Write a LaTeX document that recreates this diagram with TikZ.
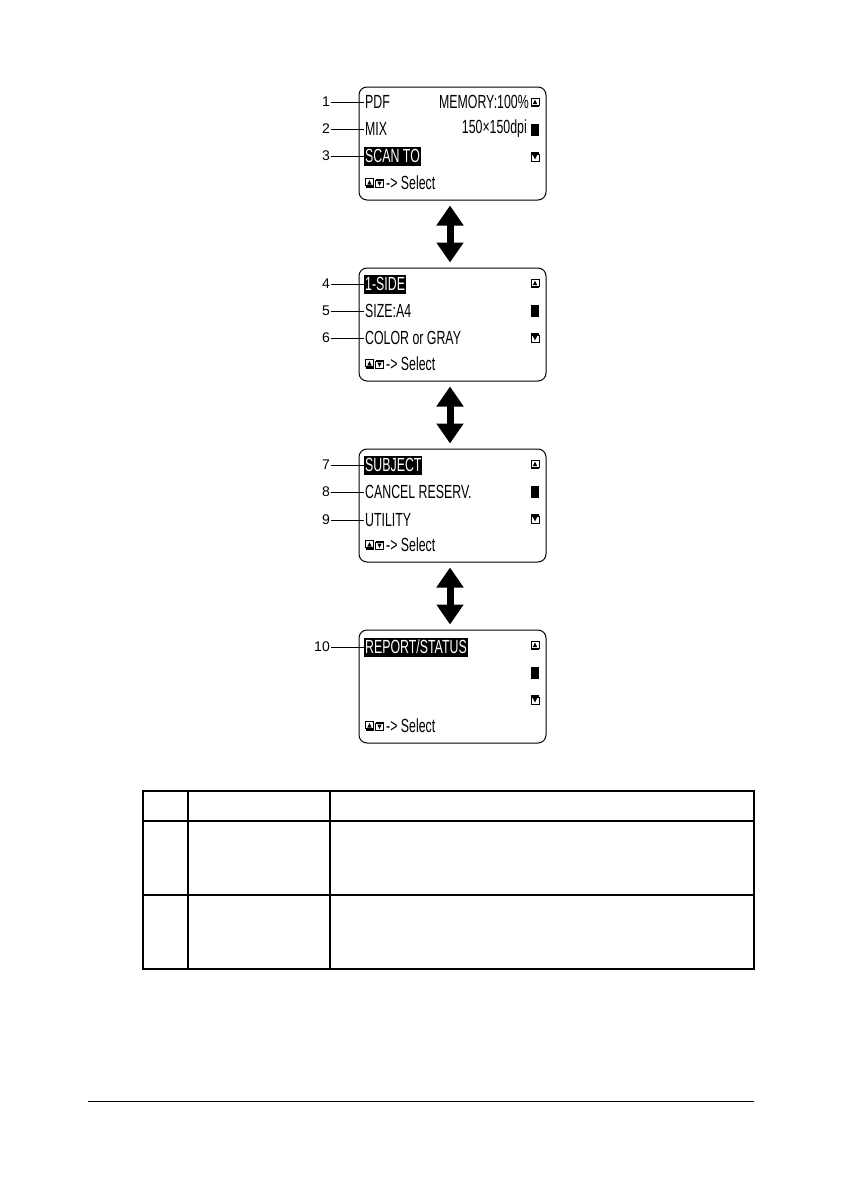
\documentclass[tikz,border=0pt]{standalone}
\usepackage{fontspec}
\setmainfont{Liberation Sans}
\newfontfamily\lcdfont[FakeStretch=0.65]{Liberation Sans}
\usetikzlibrary{arrows.meta, positioning}

\tikzset{
  panel/.style={draw, line width=1pt, rounded corners=8pt, minimum width=187pt, minimum height=113pt, inner sep=0pt},
  lcdtext/.style={font=\lcdfont\fontsize{19}{21}\selectfont, inner sep=1pt, anchor=west},
  lcdsel/.style={lcdtext, fill=black, text=white, minimum height=19pt},
  numlabel/.style={font=\fontsize{14}{16}\selectfont, inner sep=1pt, anchor=east},
  leader/.style={line width=0.8pt},
  updown/.style={line width=7pt, {Triangle[width=26pt,length=20pt]}-{Triangle[width=26pt,length=20pt]}},
  tableline/.style={line width=1.5pt}
}

% small scroll marks of the display
\newcommand{\scrollup}[2]{%
  \draw[line width=0.7pt] (#1-4,#2-4.5) rectangle (#1+4,#2+2.5);
  \fill (#1-2.2,#2+1.5) -- (#1,#2-3) -- (#1+2.2,#2+1.5) -- cycle;
  \fill (#1-4,#2+2.5) rectangle (#1+4,#2+4.5);}
\newcommand{\scrolldown}[2]{%
  \fill (#1-4,#2-4.5) rectangle (#1+4,#2-2.5);
  \draw[line width=0.7pt] (#1-4,#2-2.5) rectangle (#1+4,#2+4.5);
  \fill (#1-2.2,#2-1.5) -- (#1,#2+3) -- (#1+2.2,#2-1.5) -- cycle;}

\begin{document}
\begin{tikzpicture}[x=1pt, y=-1pt]
  \useasboundingbox (0,0) rectangle (842,1191);

  % LCD panels
  \foreach \k/\top in {1/87, 2/268, 3/449, 4/630} {
    \pgfmathsetmacro\ra{\top+15.5}
    \pgfmathsetmacro\rb{\top+42.5}
    \pgfmathsetmacro\rc{\top+69.5}
    \pgfmathsetmacro\rd{\top+96}
    \node[panel] (p\k) at (452.5,\top+56.5) {};
    \scrollup{535}{\ra}
    \fill (531,\rb-6) rectangle (539,\rb+6);
    \scrolldown{535}{\rc}
    \scrollup{369.5}{\rd}
    \scrolldown{379.5}{\rd}
    \node[lcdtext] (sel\k) at (385,\rd) {-> Select};
  }

  % menu rows with callout numbers
  \foreach \n/\y/\txt/\sty in {1/102/PDF/lcdtext, 2/129/MIX/lcdtext, 3/156/SCAN TO/lcdsel,
      4/284/1-SIDE/lcdsel, 5/311/SIZE:A4/lcdtext, 6/338/COLOR or GRAY/lcdtext,
      7/465/SUBJECT/lcdsel, 8/492/CANCEL RESERV./lcdtext, 9/520/UTILITY/lcdtext,
      10/647/REPORT\slash STATUS/lcdsel} {
    \node[\sty] (r\n) at (364,\y) {\txt};
    \node[numlabel] (n\n) at (331,\y) {\n};
    \draw[leader] (n\n) -- (r\n);
  }
  \node[lcdtext, anchor=east] (mem) at (530,102) {MEMORY:100\%};
  \node[lcdtext, anchor=east] (res) at (528,129) {150×150dpi};

  % double arrows between screens
  \foreach \a/\b in {1/2, 2/3, 3/4}
    \draw[updown] ([xshift=-2.5pt,yshift=-5pt]p\a.south) -- ([xshift=-2.5pt,yshift=5pt]p\b.north);

  % empty table
  \draw[tableline] (143,791) rectangle (754,969);
  \draw[tableline] (188,791) -- (188,969);
  \draw[tableline] (330,791) -- (330,969);
  \draw[tableline] (143,821) -- (754,821);
  \draw[tableline] (143,895) -- (754,895);

  % footer rule
  \draw[line width=1pt] (88,1101) -- (754,1101);
\end{tikzpicture}
\end{document}
